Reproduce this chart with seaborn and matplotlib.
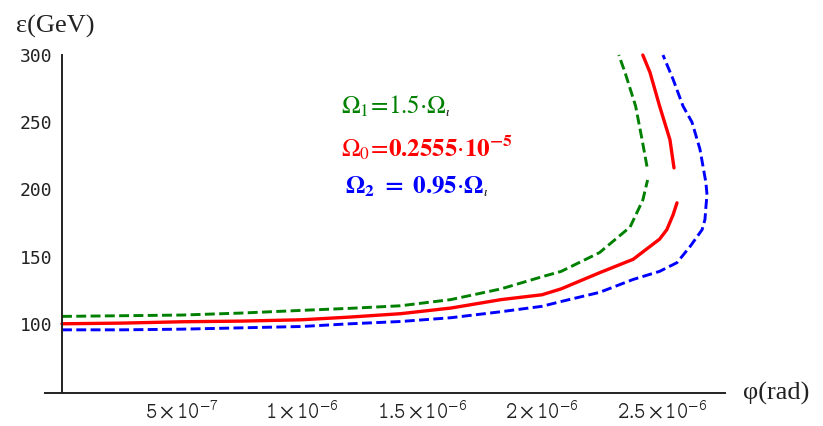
import numpy as np
import pandas as pd
import matplotlib
matplotlib.use('Agg')
import matplotlib.pyplot as plt
import seaborn as sns
from matplotlib.ticker import MultipleLocator, FixedLocator

# phi in units of 1e-6 rad, eps in GeV
red_low_phi = [0, 0.25, 0.5, 0.75, 1.0, 1.2, 1.41, 1.62, 1.83, 2.0, 2.08, 2.24, 2.38, 2.49, 2.52, 2.546, 2.5625]
red_low_eps = [100, 100.5, 101.5, 102, 103, 105, 107.5, 111.7, 118, 121.6, 126, 138, 148, 163, 170, 181, 190]
red_up_phi = [2.55, 2.533, 2.49, 2.45, 2.42]
red_up_eps = [216, 237, 262, 287, 300]

green_low_phi = [0, 0.25, 0.5, 0.75, 1.0, 1.2, 1.41, 1.62, 1.83, 2.0, 2.08, 2.24, 2.367, 2.42, 2.44]
green_low_eps = [105.5, 106, 106.5, 108, 110, 111.5, 113.4, 118, 126, 135, 139, 153, 172, 192, 207]
green_up_phi = [2.4375, 2.417, 2.39, 2.346, 2.32]
green_up_eps = [217, 237, 262, 287, 300]

blue_phi = [0, 0.25, 0.5, 0.75, 1.0, 1.2, 1.41, 1.62, 1.83, 2.0, 2.08, 2.24, 2.38, 2.49, 2.5625,
            2.617, 2.667, 2.679, 2.683, 2.6875, 2.683, 2.671, 2.658, 2.625, 2.5875, 2.546, 2.504]
blue_eps = [95.5, 95.5, 96, 97, 98, 100, 101.7, 104.5, 109, 113, 116.6, 123.4, 133, 139, 145.5,
            157.5, 170, 177.6, 187, 196, 205, 217, 230, 250, 262, 282, 300]

xticks = [0.5, 1.0, 1.5, 2.0, 2.5]
xtick_labels = [r'$\mathtt{5}\times\mathtt{10}^{\mathtt{-7}}$',
                r'$\mathtt{1}\times\mathtt{10}^{\mathtt{-6}}$',
                r'$\mathtt{1.5}\times\mathtt{10}^{\mathtt{-6}}$',
                r'$\mathtt{2}\times\mathtt{10}^{\mathtt{-6}}$',
                r'$\mathtt{2.5}\times\mathtt{10}^{\mathtt{-6}}$']
yticks = [100, 150, 200, 250, 300]

sns.set_style('white')
plt.rcParams['mathtext.fontset'] = 'stix'

fig = plt.figure(figsize=(8.23, 4.26), dpi=100)
ax = fig.add_axes([45 / 823, 33 / 426, 680 / 823, 338 / 426])

green = '#008000'
red = '#ff0000'
blue = '#0000ff'

def branch(phi, eps, color, dashed):
    df = pd.DataFrame({'phi': np.array(phi) * 1e-6, 'eps': eps})
    line_ax = sns.lineplot(data=df, x='phi', y='eps', sort=False, estimator=None,
                           color=color, lw=2.1 if dashed else 2.4, ax=ax)
    ln = line_ax.lines[-1]
    if dashed:
        ln.set_dashes([3.4, 1.5])
    ln.set_clip_on(False)

branch(green_low_phi, green_low_eps, green, True)
branch(green_up_phi, green_up_eps, green, True)
branch(red_low_phi, red_low_eps, red, False)
branch(red_up_phi, red_up_eps, red, False)
branch(blue_phi, blue_eps, blue, True)

ax.set_xlim(-0.0708e-6, 2.7625e-6)
ax.set_ylim(48.5, 300)
ax.set_xlabel('')
ax.set_ylabel('')

for s in ['top', 'right']:
    ax.spines[s].set_visible(False)
ax.spines['left'].set_position(('data', 0))
for s in ['left', 'bottom']:
    ax.spines[s].set_linewidth(1.4)
    ax.spines[s].set_color('#222222')

ax.xaxis.set_major_locator(FixedLocator(np.array(xticks) * 1e-6))
ax.set_xticklabels(xtick_labels)
ax.xaxis.set_minor_locator(FixedLocator(np.arange(1, 28) * 1e-7))
ax.yaxis.set_major_locator(FixedLocator(yticks))
ax.yaxis.set_minor_locator(MultipleLocator(10))

ax.tick_params(which='major', direction='in', length=4, width=1.1, color='#222222')
ax.tick_params(which='minor', direction='in', length=2.5, width=1.0, color='#222222')
ax.tick_params(axis='x', which='major', pad=5)
ax.tick_params(axis='y', which='major', pad=7)
for lab in ax.get_yticklabels():
    lab.set_family('DejaVu Sans Mono')
    lab.set_fontsize(13)
    lab.set_color('#222222')
for lab in ax.get_xticklabels():
    lab.set_fontsize(15.5)
    lab.set_color('#222222')

fig.text(16 / 823, 1 - 33 / 426, 'ε(GeV)', family='Liberation Serif', fontsize=19,
         ha='left', va='baseline', color='#222222')
fig.text(743 / 823, 1 - 400 / 426, 'φ(rad)', family='Liberation Serif', fontsize=19,
         ha='left', va='baseline', color='#222222')

t1 = fig.text(341 / 823, 1 - 114 / 426, r'$\Omega_1\!=\!1.5{\cdot}\Omega$', color=green,
              fontsize=18, ha='left', va='baseline')
t0 = fig.text(341 / 823, 1 - 157 / 426, r'$\Omega_0\!=\!\mathbf{0.2555}{\cdot}\mathbf{10^{-5}}$',
              color=red, fontsize=18, ha='left', va='baseline')
t2 = fig.text(345 / 823, 1 - 193 / 426, r'$\mathbf{\Omega_2\ =\ 0.95}{\cdot}\mathbf{\Omega}$',
              color=blue, fontsize=18, ha='left', va='baseline')
for t in (t1, t2):
    ax.annotate(r'$\iota$', xy=(1, 0), xycoords=t, xytext=(-1, 0), textcoords='offset points',
                fontsize=9, color='black', ha='left', va='bottom')

fig.savefig('out.png', dpi=100)
